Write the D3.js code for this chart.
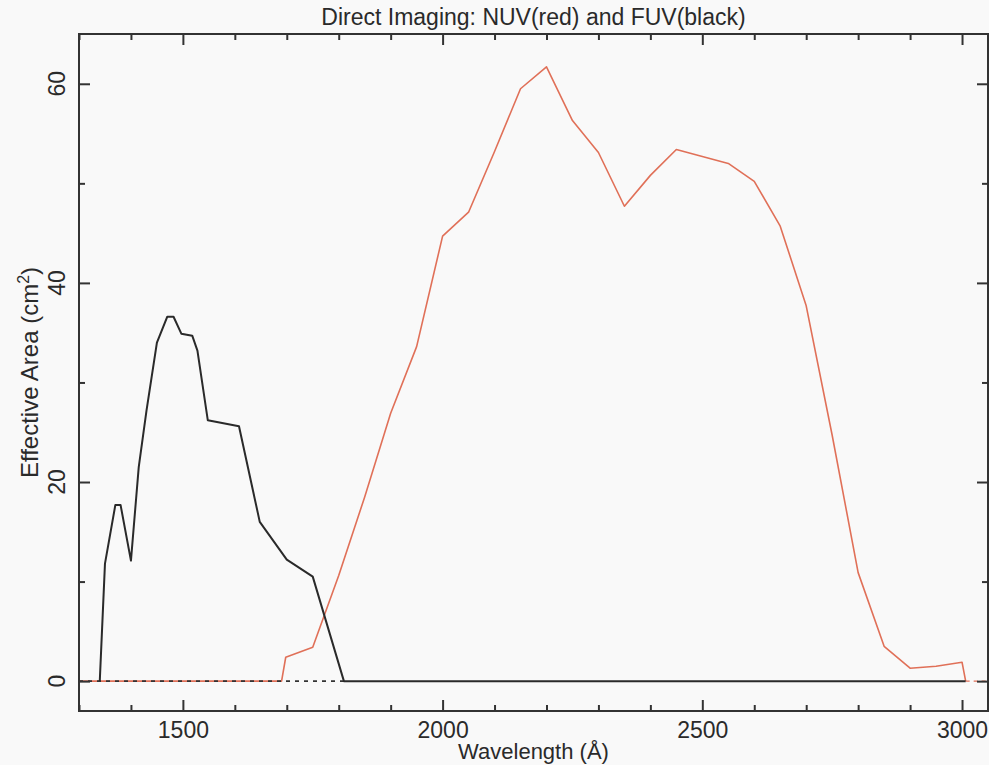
<!DOCTYPE html>
<html>
<head>
<meta charset="utf-8">
<script src="https://cdn.jsdelivr.net/npm/d3@7"></script>
<style>
  html, body { margin: 0; padding: 0; background: #f9f9f9; }
  svg { display: block; }
  text { font-family: "Liberation Sans", Arial, sans-serif; fill: #2a2a2a; }
</style>
</head>
<body>
<svg id="chart" width="989" height="765"></svg>
<script>
// Effective area curves (cm^2) versus wavelength (Angstrom)
const fuvWave = [1340, 1350, 1370, 1380, 1400, 1415, 1430, 1450, 1470, 1482, 1497, 1518, 1528, 1548, 1608, 1648, 1700, 1750, 1810, 3007];
const fuvArea = [0, 11.8, 17.7, 17.7, 12.1, 21.5, 27.2, 34.0, 36.6, 36.6, 34.9, 34.7, 33.2, 26.2, 25.6, 16.0, 12.2, 10.5, 0, 0];

const nuvWave = [1300, 1690, 1698, 1750, 1800, 1850, 1900, 1950, 2000, 2050, 2100, 2150, 2200, 2250, 2300, 2350, 2400, 2450, 2500, 2550, 2600, 2650, 2700, 2750, 2800, 2850, 2900, 2950, 3000, 3007];
const nuvArea = [0, 0, 2.4, 3.4, 10.6, 18.5, 26.9, 33.6, 44.7, 47.1, 53.2, 59.5, 61.7, 56.3, 53.1, 47.7, 50.8, 53.4, 52.7, 52.0, 50.2, 45.7, 37.7, 24.7, 10.9, 3.5, 1.3, 1.5, 1.9, 0];

// Axis ticks
const xMajorTicks = [1500, 2000, 2500, 3000];
const xMinorTicks = [1300, 1400, 1600, 1700, 1800, 1900, 2100, 2200, 2300, 2400, 2600, 2700, 2800, 2900];
const yMajorTicks = [0, 20, 40, 60];
const yMinorTicks = [10, 30, 50];

const titleText = "Direct Imaging: NUV(red) and FUV(black)";
const xLabel = "Wavelength (Å)";

const svg = d3.select("#chart");
const margin = { left: 79, right: 1, top: 34, bottom: 54 };
const W = 989, H = 765;

const x = d3.scaleLinear().domain([1300, 3050]).range([margin.left, W - margin.right]);
const y = d3.scaleLinear().domain([-3, 65]).range([H - margin.bottom, margin.top]);

const plot = svg.append("g");
const line = d3.line().x(d => x(d[0])).y(d => y(d[1]));

// NUV curve (red)
plot.append("path")
  .datum(d3.zip(nuvWave, nuvArea))
  .attr("d", line)
  .attr("fill", "none")
  .attr("stroke", "#e07058")
  .attr("stroke-width", 1.6)
  .attr("stroke-linejoin", "round");

// Zero baselines
plot.append("line")
  .attr("x1", x(1300)).attr("x2", x(1810))
  .attr("y1", y(0)).attr("y2", y(0))
  .attr("stroke", "#333").attr("stroke-width", 1.6)
  .attr("stroke-dasharray", "4,5");

plot.append("line")
  .attr("x1", x(3007)).attr("x2", x(3050))
  .attr("y1", y(0)).attr("y2", y(0))
  .attr("stroke", "#e07058").attr("stroke-width", 1.4)
  .attr("stroke-dasharray", "4,4");

// FUV curve (black)
plot.append("path")
  .datum(d3.zip(fuvWave, fuvArea))
  .attr("d", line)
  .attr("fill", "none")
  .attr("stroke", "#2a2a2a")
  .attr("stroke-width", 2)
  .attr("stroke-linejoin", "round");

// Frame
svg.append("rect")
  .attr("x", x(1300)).attr("y", y(65))
  .attr("width", x(3050) - x(1300)).attr("height", y(-3) - y(65))
  .attr("fill", "none").attr("stroke", "#333").attr("stroke-width", 2);

// Inward ticks on all four sides
function styleAxis(g) {
  g.select(".domain").remove();
  g.selectAll(".tick line").attr("stroke", "#333").attr("stroke-width", 2);
}
const bottomY = y(-3), topY = y(65), leftX = x(1300), rightX = x(3050);

svg.append("g").attr("transform", `translate(0,${bottomY})`)
  .call(d3.axisBottom(x).tickValues(xMinorTicks).tickSize(-6).tickFormat(""))
  .call(styleAxis);
const xAxisMajor = svg.append("g").attr("transform", `translate(0,${bottomY})`)
  .call(d3.axisBottom(x).tickValues(xMajorTicks).tickSize(-11).tickPadding(11).tickFormat(d3.format("d")))
  .call(styleAxis);
xAxisMajor.selectAll(".tick text")
  .attr("font-size", 23).attr("fill", "#2a2a2a")
  .attr("font-family", "'Liberation Sans', Arial, sans-serif");

svg.append("g").attr("transform", `translate(0,${topY})`)
  .call(d3.axisTop(x).tickValues(xMinorTicks).tickSize(-6).tickFormat(""))
  .call(styleAxis);
svg.append("g").attr("transform", `translate(0,${topY})`)
  .call(d3.axisTop(x).tickValues(xMajorTicks).tickSize(-11).tickFormat(""))
  .call(styleAxis);

svg.append("g").attr("transform", `translate(${leftX},0)`)
  .call(d3.axisLeft(y).tickValues(yMinorTicks).tickSize(-6).tickFormat(""))
  .call(styleAxis);
svg.append("g").attr("transform", `translate(${leftX},0)`)
  .call(d3.axisLeft(y).tickValues(yMajorTicks).tickSize(-11).tickFormat(""))
  .call(styleAxis);

svg.append("g").attr("transform", `translate(${rightX},0)`)
  .call(d3.axisRight(y).tickValues(yMinorTicks).tickSize(-6).tickFormat(""))
  .call(styleAxis);
svg.append("g").attr("transform", `translate(${rightX},0)`)
  .call(d3.axisRight(y).tickValues(yMajorTicks).tickSize(-11).tickFormat(""))
  .call(styleAxis);

// Rotated y tick labels
svg.append("g").selectAll("text")
  .data(yMajorTicks)
  .join("text")
  .attr("transform", d => `translate(65,${y(d)}) rotate(-90)`)
  .attr("text-anchor", "middle")
  .attr("font-size", 23)
  .text(d => d);

// Title
svg.append("text")
  .attr("x", (leftX + rightX) / 2).attr("y", 25)
  .attr("text-anchor", "middle")
  .attr("font-size", 23)
  .text(titleText);

// X axis label
svg.append("text")
  .attr("x", (leftX + rightX) / 2).attr("y", 759)
  .attr("text-anchor", "middle")
  .attr("font-size", 22)
  .text(xLabel);

// Y axis label with superscript
const yl = svg.append("text")
  .attr("transform", `translate(38,${(topY + bottomY) / 2}) rotate(-90)`)
  .attr("text-anchor", "middle")
  .attr("font-size", 24);
yl.append("tspan").text("Effective Area (cm");
yl.append("tspan").attr("dy", -9).attr("font-size", 16).text("2");
yl.append("tspan").attr("dy", 9).text(")");
</script>
</body>
</html>
